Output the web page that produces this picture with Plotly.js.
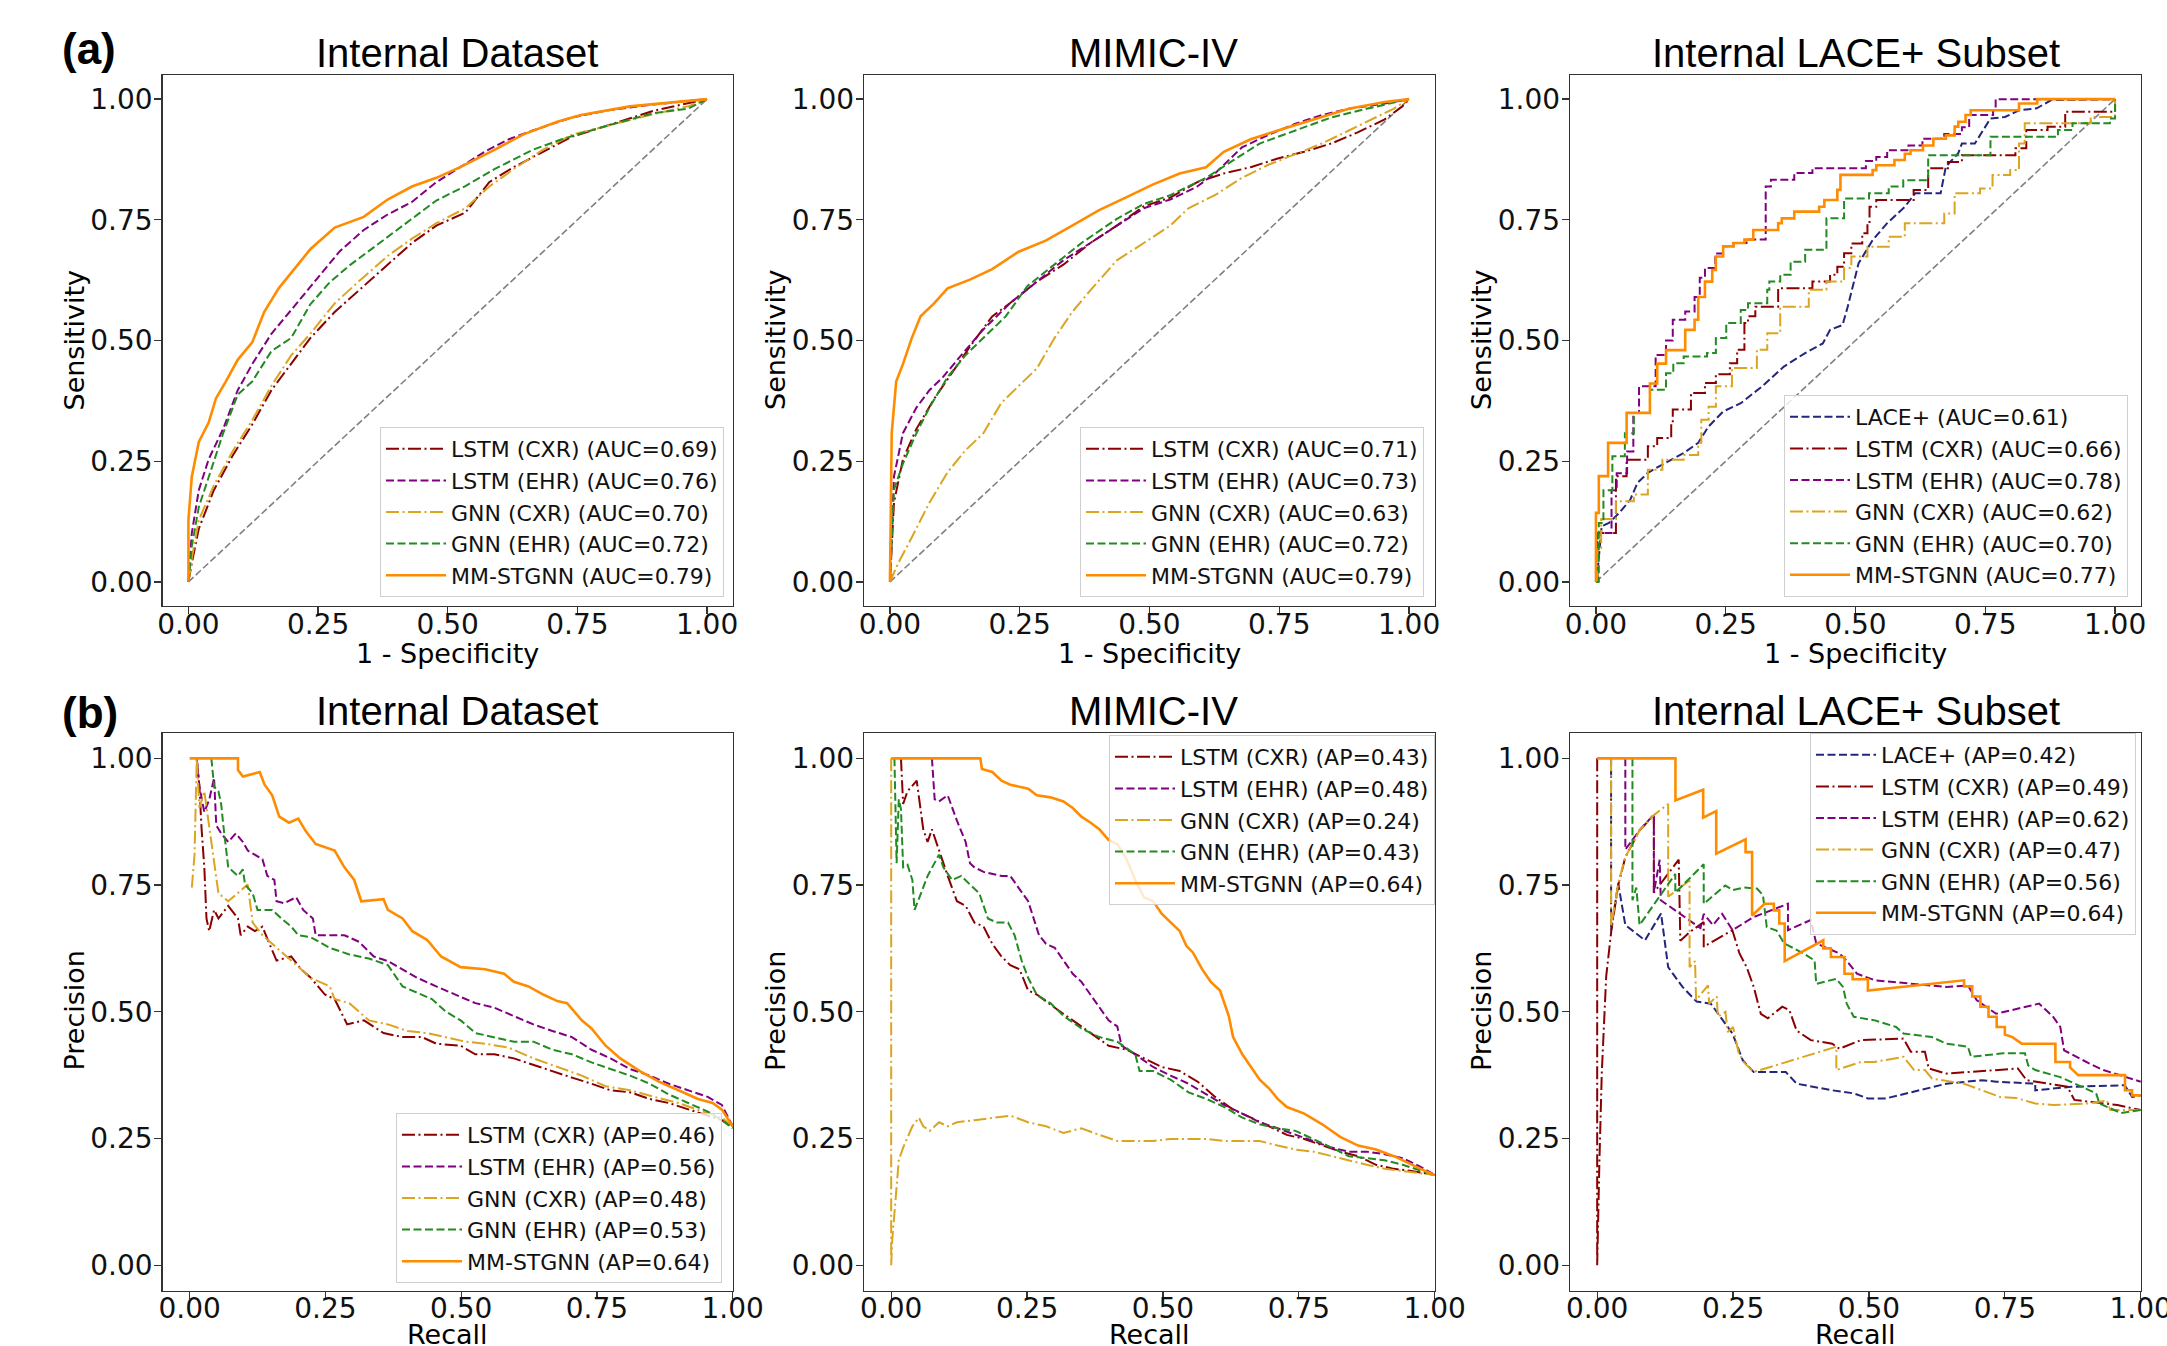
<!DOCTYPE html>
<html><head><meta charset="utf-8">
<script src="https://cdn.plot.ly/plotly-3.0.1.min.js"></script>
<style>html,body{margin:0;padding:0;background:#fff}#chart{width:2167px;height:1346px}</style>
</head><body><div id="chart"></div>
<script>
// ---------- labels ----------
const PANEL_TITLES = ['Internal Dataset', 'MIMIC-IV', 'Internal LACE+ Subset'];
const ROW_TAGS = ['(a)', '(b)'];
const TICK_VALS = [0, 0.25, 0.5, 0.75, 1];
const TICK_TEXT = ['0.00', '0.25', '0.50', '0.75', '1.00'];
const NAMES_ROC_INT = ['LSTM (CXR) (AUC=0.69)', 'LSTM (EHR) (AUC=0.76)', 'GNN (CXR) (AUC=0.70)', 'GNN (EHR) (AUC=0.72)', 'MM-STGNN (AUC=0.79)'];
const NAMES_ROC_MIMIC = ['LSTM (CXR) (AUC=0.71)', 'LSTM (EHR) (AUC=0.73)', 'GNN (CXR) (AUC=0.63)', 'GNN (EHR) (AUC=0.72)', 'MM-STGNN (AUC=0.79)'];
const NAMES_ROC_LACE = ['LACE+ (AUC=0.61)', 'LSTM (CXR) (AUC=0.66)', 'LSTM (EHR) (AUC=0.78)', 'GNN (CXR) (AUC=0.62)', 'GNN (EHR) (AUC=0.70)', 'MM-STGNN (AUC=0.77)'];
const NAMES_PR_INT = ['LSTM (CXR) (AP=0.46)', 'LSTM (EHR) (AP=0.56)', 'GNN (CXR) (AP=0.48)', 'GNN (EHR) (AP=0.53)', 'MM-STGNN (AP=0.64)'];
const NAMES_PR_MIMIC = ['LSTM (CXR) (AP=0.43)', 'LSTM (EHR) (AP=0.48)', 'GNN (CXR) (AP=0.24)', 'GNN (EHR) (AP=0.43)', 'MM-STGNN (AP=0.64)'];
const NAMES_PR_LACE = ['LACE+ (AP=0.42)', 'LSTM (CXR) (AP=0.49)', 'LSTM (EHR) (AP=0.62)', 'GNN (CXR) (AP=0.47)', 'GNN (EHR) (AP=0.56)', 'MM-STGNN (AP=0.64)'];

// ---------- chance diagonal ----------
const diag_x = [0, 1];
const diag_y = [0, 1];

// ---------- (a) ROC, Internal Dataset ----------
const roc_int_lstm_cxr_x = [0,0.0065,0.02,0.049,0.086,0.123,0.16,0.198,0.235,0.282,0.328,0.384,0.431,0.478,0.534,0.58,0.627,0.683,0.739,0.804,0.897,1];
const roc_int_lstm_cxr_y = [0,0.039,0.11,0.19,0.263,0.326,0.397,0.451,0.505,0.559,0.604,0.657,0.702,0.738,0.765,0.828,0.859,0.891,0.922,0.944,0.976,1];
const roc_int_lstm_ehr_x = [0,0.0065,0.02,0.039,0.067,0.095,0.123,0.16,0.198,0.244,0.291,0.338,0.384,0.431,0.478,0.524,0.571,0.618,0.664,0.739,0.804,0.897,1];
const roc_int_lstm_ehr_y = [0,0.101,0.19,0.254,0.317,0.397,0.451,0.514,0.563,0.622,0.684,0.729,0.761,0.787,0.828,0.859,0.891,0.917,0.935,0.962,0.976,0.989,1];
const roc_int_gnn_cxr_x = [0,0.0065,0.02,0.049,0.086,0.123,0.16,0.198,0.235,0.282,0.328,0.384,0.431,0.478,0.534,0.58,0.627,0.683,0.739,0.804,0.897,0.963,1];
const roc_int_gnn_cxr_y = [0,0.048,0.128,0.2,0.272,0.335,0.406,0.469,0.514,0.577,0.622,0.675,0.711,0.743,0.774,0.819,0.855,0.895,0.926,0.944,0.969,0.985,1];
const roc_int_gnn_ehr_x = [0,0.0065,0.02,0.039,0.067,0.095,0.123,0.16,0.198,0.235,0.272,0.31,0.366,0.422,0.478,0.534,0.59,0.664,0.72,0.804,0.897,0.963,1];
const roc_int_gnn_ehr_y = [0,0.074,0.155,0.218,0.308,0.388,0.415,0.478,0.505,0.575,0.62,0.655,0.7,0.745,0.79,0.82,0.855,0.895,0.917,0.944,0.971,0.98,1];
const roc_int_mm_x = [0,0,0.0065,0.02,0.039,0.053,0.072,0.095,0.123,0.146,0.174,0.198,0.235,0.282,0.338,0.384,0.431,0.478,0.524,0.59,0.646,0.711,0.757,0.851,0.944,1];
const roc_int_mm_y = [0,0.128,0.218,0.29,0.33,0.38,0.415,0.46,0.496,0.559,0.608,0.64,0.689,0.734,0.756,0.792,0.819,0.837,0.859,0.895,0.927,0.953,0.967,0.985,0.994,1];

// ---------- (a) ROC, MIMIC-IV ----------
const roc_mim_lstm_cxr_x = [0,0.0077,0.025,0.051,0.085,0.119,0.154,0.197,0.231,0.283,0.334,0.386,0.437,0.489,0.54,0.592,0.643,0.695,0.747,0.798,0.85,0.901,0.953,0.987,1];
const roc_mim_lstm_cxr_y = [0,0.164,0.254,0.317,0.379,0.433,0.487,0.55,0.577,0.622,0.657,0.702,0.738,0.778,0.796,0.828,0.846,0.859,0.877,0.891,0.908,0.931,0.958,0.985,1];
const roc_mim_lstm_ehr_x = [0,0.0077,0.025,0.051,0.076,0.102,0.137,0.18,0.231,0.283,0.334,0.386,0.437,0.489,0.54,0.592,0.626,0.678,0.729,0.781,0.832,0.884,0.953,1];
const roc_mim_lstm_ehr_y = [0,0.218,0.308,0.361,0.397,0.424,0.469,0.523,0.577,0.622,0.666,0.702,0.738,0.774,0.792,0.819,0.846,0.9,0.926,0.949,0.967,0.98,0.991,1];
const roc_mim_gnn_cxr_x = [0,0.016,0.042,0.076,0.111,0.145,0.18,0.214,0.248,0.283,0.317,0.351,0.386,0.437,0.489,0.54,0.575,0.626,0.678,0.729,0.781,0.832,0.884,0.936,0.97,1];
const roc_mim_gnn_cxr_y = [0,0.039,0.092,0.164,0.227,0.272,0.308,0.37,0.406,0.442,0.505,0.559,0.604,0.666,0.702,0.738,0.774,0.801,0.837,0.864,0.886,0.908,0.935,0.962,0.98,1];
const roc_mim_gnn_ehr_x = [0,0.0077,0.025,0.051,0.076,0.111,0.145,0.18,0.223,0.265,0.317,0.369,0.437,0.489,0.54,0.609,0.661,0.712,0.781,0.85,0.918,1];
const roc_mim_gnn_ehr_y = [0,0.191,0.245,0.308,0.361,0.424,0.469,0.505,0.55,0.613,0.657,0.702,0.752,0.783,0.801,0.837,0.873,0.908,0.935,0.962,0.98,1];
const roc_mim_mm_x = [0,0.0034,0.012,0.025,0.042,0.059,0.085,0.111,0.154,0.197,0.248,0.3,0.351,0.403,0.454,0.506,0.558,0.609,0.643,0.695,0.747,0.815,0.884,0.953,1];
const roc_mim_mm_y = [0,0.308,0.415,0.451,0.505,0.55,0.577,0.608,0.626,0.648,0.684,0.707,0.738,0.77,0.796,0.823,0.846,0.859,0.891,0.917,0.935,0.958,0.98,0.994,1];

// ---------- (a) ROC, Internal LACE+ Subset ----------
const roc_lace_lace_x = [0,0.003,0.011,0.025,0.045,0.066,0.08,0.1,0.128,0.169,0.197,0.217,0.245,0.279,0.32,0.362,0.403,0.437,0.451,0.475,0.485,0.506,0.533,0.561,0.595,0.615,0.664,0.674,0.698,0.705,0.73,0.76,0.788,0.815,0.849,0.877,1];
const roc_lace_lace_y = [0,0.02,0.115,0.122,0.143,0.17,0.205,0.226,0.243,0.267,0.288,0.322,0.353,0.37,0.405,0.446,0.474,0.494,0.522,0.532,0.57,0.66,0.708,0.743,0.777,0.805,0.805,0.86,0.888,0.908,0.908,0.96,0.963,0.977,0.981,0.998,1];
const roc_lace_lstm_cxr_x = [0,0.003,0.0385,0.059,0.1,0.118,0.145,0.148,0.183,0.21,0.231,0.258,0.272,0.286,0.293,0.307,0.351,0.417,0.451,0.465,0.478,0.492,0.513,0.523,0.527,0.54,0.612,0.64,0.678,0.705,0.808,0.829,0.87,0.904,1];
const roc_lace_lstm_cxr_y = [0,0.101,0.219,0.253,0.281,0.298,0.329,0.357,0.391,0.412,0.43,0.453,0.481,0.536,0.55,0.57,0.608,0.622,0.636,0.653,0.681,0.701,0.722,0.743,0.777,0.791,0.812,0.857,0.87,0.884,0.898,0.936,0.943,0.974,1];
const roc_lace_lstm_ehr_x = [0,0.0027,0.03,0.04,0.06,0.072,0.083,0.115,0.135,0.148,0.172,0.19,0.2,0.21,0.23,0.245,0.265,0.29,0.327,0.337,0.382,0.417,0.52,0.54,0.561,0.602,0.629,0.671,0.705,0.719,0.765,0.77,1];
const roc_lace_lstm_ehr_y = [0,0.101,0.19,0.225,0.27,0.35,0.405,0.47,0.5,0.543,0.56,0.59,0.63,0.65,0.68,0.695,0.702,0.709,0.819,0.833,0.847,0.857,0.872,0.88,0.894,0.904,0.918,0.928,0.942,0.967,0.977,1,1];
const roc_lace_gnn_cxr_x = [0,0.003,0.01,0.0385,0.073,0.1,0.128,0.169,0.197,0.203,0.217,0.231,0.262,0.31,0.33,0.355,0.41,0.444,0.478,0.492,0.523,0.564,0.595,0.671,0.691,0.74,0.764,0.798,0.815,0.826,0.953,1];
const roc_lace_gnn_cxr_y = [0,0.07,0.13,0.167,0.181,0.232,0.253,0.263,0.288,0.336,0.363,0.405,0.443,0.481,0.515,0.57,0.605,0.622,0.65,0.674,0.694,0.715,0.743,0.763,0.805,0.815,0.843,0.853,0.908,0.95,0.963,1];
const roc_lace_gnn_ehr_x = [0,0.0055,0.0144,0.0316,0.0557,0.073,0.104,0.135,0.149,0.169,0.214,0.231,0.251,0.279,0.293,0.33,0.334,0.355,0.375,0.403,0.444,0.444,0.478,0.526,0.564,0.592,0.64,0.76,0.89,0.918,0.99,1];
const roc_lace_gnn_ehr_y = [0,0.122,0.19,0.26,0.308,0.35,0.398,0.432,0.453,0.467,0.474,0.505,0.536,0.563,0.577,0.605,0.622,0.636,0.663,0.688,0.715,0.753,0.794,0.805,0.819,0.832,0.884,0.922,0.936,0.95,0.96,1];
const roc_lace_mm_x = [0,0,0.0055,0.0234,0.0591,0.104,0.118,0.135,0.172,0.19,0.197,0.21,0.224,0.231,0.245,0.265,0.286,0.303,0.351,0.358,0.382,0.43,0.44,0.465,0.471,0.533,0.54,0.575,0.595,0.606,0.63,0.65,0.674,0.691,0.698,0.712,0.722,0.815,0.85,1];
const roc_lace_mm_y = [0,0.143,0.219,0.288,0.35,0.411,0.452,0.48,0.522,0.543,0.59,0.622,0.646,0.674,0.695,0.702,0.709,0.729,0.743,0.753,0.767,0.777,0.791,0.812,0.843,0.853,0.863,0.874,0.887,0.894,0.904,0.918,0.925,0.943,0.953,0.967,0.977,0.991,1,1];

// ---------- (b) PR, Internal Dataset ----------
const pr_int_lstm_cxr_x = [0.013,0.018,0.022,0.027,0.031,0.036,0.045,0.053,0.071,0.089,0.094,0.107,0.12,0.134,0.147,0.16,0.187,0.205,0.223,0.249,0.267,0.29,0.321,0.357,0.392,0.428,0.454,0.499,0.526,0.561,0.597,0.633,0.668,0.704,0.74,0.775,0.811,0.847,0.882,0.918,0.954,0.98,1];
const pr_int_lstm_cxr_y = [1,0.944,0.86,0.785,0.684,0.659,0.701,0.684,0.709,0.684,0.651,0.668,0.659,0.668,0.634,0.601,0.609,0.584,0.567,0.534,0.525,0.475,0.483,0.458,0.45,0.45,0.437,0.433,0.416,0.416,0.408,0.395,0.383,0.37,0.358,0.345,0.341,0.328,0.32,0.307,0.295,0.286,0.274];
const pr_int_lstm_ehr_x = [0.013,0.018,0.027,0.036,0.045,0.049,0.058,0.071,0.085,0.098,0.107,0.134,0.143,0.156,0.16,0.174,0.196,0.209,0.227,0.232,0.258,0.285,0.312,0.339,0.365,0.392,0.419,0.454,0.49,0.526,0.561,0.597,0.633,0.668,0.704,0.74,0.775,0.811,0.847,0.882,0.918,0.954,0.98,1];
const pr_int_lstm_ehr_y = [1,0.944,0.894,0.918,0.961,0.868,0.852,0.835,0.852,0.835,0.818,0.801,0.768,0.76,0.718,0.714,0.726,0.701,0.684,0.651,0.651,0.651,0.638,0.609,0.6,0.584,0.567,0.55,0.534,0.517,0.508,0.492,0.475,0.462,0.45,0.425,0.408,0.387,0.374,0.358,0.345,0.332,0.316,0.274];
const pr_int_gnn_cxr_x = [0.004,0.009,0.013,0.018,0.027,0.036,0.045,0.053,0.071,0.089,0.107,0.116,0.134,0.152,0.169,0.187,0.205,0.223,0.258,0.267,0.294,0.33,0.365,0.401,0.437,0.472,0.508,0.544,0.588,0.633,0.677,0.722,0.766,0.811,0.856,0.9,0.945,0.98,1];
const pr_int_gnn_cxr_y = [0.745,0.81,1,0.902,0.935,0.868,0.801,0.734,0.718,0.734,0.751,0.676,0.651,0.634,0.617,0.601,0.584,0.567,0.55,0.525,0.517,0.483,0.475,0.462,0.458,0.45,0.441,0.437,0.429,0.408,0.391,0.374,0.353,0.345,0.332,0.32,0.303,0.291,0.274];
const pr_int_gnn_ehr_x = [0.04,0.045,0.053,0.058,0.062,0.067,0.071,0.089,0.098,0.102,0.116,0.125,0.152,0.169,0.187,0.2,0.223,0.258,0.294,0.33,0.365,0.392,0.419,0.446,0.472,0.499,0.526,0.561,0.597,0.633,0.668,0.704,0.74,0.775,0.811,0.847,0.882,0.918,0.954,0.98,1];
const pr_int_gnn_ehr_y = [1,0.944,0.935,0.91,0.868,0.818,0.785,0.768,0.781,0.751,0.734,0.701,0.701,0.684,0.668,0.651,0.647,0.626,0.613,0.605,0.592,0.55,0.538,0.525,0.5,0.483,0.458,0.45,0.441,0.441,0.425,0.416,0.4,0.387,0.374,0.358,0.337,0.32,0.303,0.286,0.27];
const pr_int_mm_x = [0,0.089,0.089,0.098,0.129,0.138,0.152,0.165,0.183,0.2,0.214,0.232,0.267,0.285,0.303,0.316,0.357,0.365,0.392,0.41,0.437,0.463,0.499,0.544,0.579,0.597,0.624,0.651,0.677,0.695,0.722,0.74,0.766,0.793,0.829,0.864,0.9,0.936,0.963,0.98,1];
const pr_int_mm_y = [1,1,0.977,0.964,0.973,0.948,0.927,0.885,0.873,0.881,0.856,0.831,0.818,0.785,0.76,0.718,0.722,0.701,0.684,0.659,0.642,0.609,0.588,0.584,0.575,0.559,0.55,0.534,0.521,0.517,0.483,0.467,0.433,0.408,0.383,0.362,0.345,0.328,0.32,0.307,0.274];

// ---------- (b) PR, MIMIC-IV ----------
const pr_mim_lstm_cxr_x = [0.018,0.022,0.03,0.047,0.059,0.067,0.075,0.088,0.104,0.121,0.137,0.153,0.17,0.186,0.203,0.219,0.236,0.252,0.268,0.301,0.334,0.367,0.4,0.433,0.465,0.498,0.531,0.564,0.596,0.629,0.662,0.695,0.728,0.76,0.793,0.826,0.859,0.892,0.925,0.957,1];
const pr_mim_lstm_cxr_y = [1,0.91,0.935,0.956,0.86,0.835,0.86,0.818,0.768,0.718,0.709,0.676,0.668,0.634,0.609,0.592,0.584,0.542,0.534,0.508,0.483,0.458,0.433,0.425,0.408,0.391,0.383,0.362,0.332,0.307,0.291,0.274,0.257,0.249,0.236,0.224,0.215,0.198,0.19,0.186,0.178];
const pr_mim_lstm_ehr_x = [0.075,0.08,0.088,0.104,0.121,0.137,0.145,0.153,0.17,0.203,0.219,0.236,0.252,0.272,0.285,0.301,0.317,0.334,0.35,0.367,0.383,0.4,0.416,0.424,0.449,0.482,0.514,0.547,0.58,0.613,0.646,0.678,0.711,0.744,0.777,0.81,0.842,0.875,0.908,0.941,0.974,1];
const pr_mim_lstm_ehr_y = [1,0.919,0.915,0.927,0.877,0.835,0.793,0.785,0.776,0.768,0.768,0.743,0.718,0.651,0.634,0.626,0.601,0.575,0.559,0.534,0.508,0.483,0.471,0.433,0.416,0.391,0.374,0.358,0.337,0.316,0.299,0.282,0.27,0.257,0.245,0.232,0.224,0.224,0.219,0.211,0.194,0.178];
const pr_mim_gnn_cxr_x = [0,0,0.002,0.006,0.014,0.022,0.039,0.051,0.059,0.071,0.088,0.104,0.121,0.153,0.186,0.219,0.252,0.285,0.317,0.35,0.383,0.416,0.449,0.482,0.514,0.547,0.58,0.613,0.646,0.678,0.711,0.744,0.777,0.81,0.842,0.875,0.908,0.941,0.974,1];
const pr_mim_gnn_cxr_y = [1,0,0.05,0.106,0.207,0.232,0.274,0.291,0.274,0.265,0.282,0.274,0.282,0.286,0.291,0.295,0.282,0.274,0.261,0.27,0.257,0.245,0.245,0.245,0.249,0.249,0.249,0.245,0.245,0.245,0.236,0.228,0.224,0.215,0.207,0.198,0.19,0.186,0.182,0.178];
const pr_mim_gnn_ehr_x = [0.006,0.01,0.014,0.018,0.022,0.03,0.039,0.043,0.055,0.067,0.088,0.096,0.112,0.129,0.145,0.162,0.178,0.194,0.215,0.227,0.24,0.252,0.268,0.293,0.317,0.35,0.383,0.416,0.449,0.457,0.482,0.514,0.547,0.58,0.613,0.646,0.678,0.711,0.744,0.777,0.81,0.842,0.875,0.908,0.941,0.974,1];
const pr_mim_gnn_ehr_y = [1,0.793,0.919,0.9,0.785,0.79,0.76,0.701,0.734,0.768,0.81,0.785,0.76,0.768,0.751,0.734,0.684,0.676,0.676,0.651,0.601,0.567,0.533,0.517,0.492,0.467,0.45,0.441,0.416,0.383,0.383,0.366,0.341,0.328,0.312,0.291,0.278,0.27,0.265,0.249,0.232,0.215,0.211,0.207,0.198,0.186,0.178];
const pr_mim_mm_x = [0,0.164,0.167,0.186,0.203,0.219,0.252,0.268,0.293,0.317,0.334,0.35,0.367,0.383,0.4,0.416,0.433,0.449,0.465,0.482,0.498,0.514,0.531,0.543,0.555,0.572,0.588,0.605,0.613,0.621,0.629,0.646,0.662,0.678,0.695,0.711,0.728,0.76,0.793,0.826,0.859,0.892,0.925,0.957,0.982,1];
const pr_mim_mm_y = [1,1,0.979,0.973,0.956,0.948,0.94,0.927,0.923,0.915,0.902,0.885,0.873,0.86,0.839,0.831,0.801,0.76,0.726,0.718,0.693,0.676,0.659,0.63,0.617,0.584,0.559,0.542,0.517,0.492,0.45,0.416,0.391,0.366,0.349,0.328,0.312,0.299,0.278,0.253,0.236,0.228,0.215,0.198,0.186,0.178];

// ---------- (b) PR, Internal LACE+ Subset ----------
const pr_lace_lace_x = [0.0256,0.0256,0.0387,0.0518,0.088,0.1175,0.1306,0.157,0.183,0.209,0.2225,0.249,0.268,0.288,0.347,0.367,0.4325,0.472,0.498,0.531,0.6425,0.708,0.734,0.806,0.806,0.872,0.9706,0.984,1];
const pr_lace_lace_y = [1,0.66,0.753,0.671,0.641,0.694,0.588,0.549,0.52,0.516,0.496,0.457,0.404,0.381,0.381,0.358,0.345,0.339,0.329,0.329,0.358,0.365,0.362,0.358,0.345,0.352,0.355,0.332,0.335];
const pr_lace_lstm_cxr_x = [0,0,0.004,0.0085,0.0166,0.026,0.0387,0.0518,0.078,0.1043,0.1043,0.15,0.153,0.17,0.196,0.196,0.2487,0.2618,0.275,0.288,0.301,0.314,0.3406,0.3537,0.3668,0.393,0.4325,0.4456,0.485,0.5637,0.577,0.603,0.61,0.6425,0.774,0.79,0.865,0.878,0.957,1];
const pr_lace_lstm_cxr_y = [1,0,0.2,0.38,0.57,0.66,0.75,0.805,0.858,0.888,0.735,0.8,0.64,0.657,0.677,0.628,0.661,0.615,0.588,0.549,0.496,0.487,0.51,0.503,0.463,0.444,0.437,0.427,0.444,0.447,0.421,0.421,0.388,0.378,0.388,0.365,0.352,0.326,0.316,0.306];
const pr_lace_lstm_ehr_x = [0.0518,0.0518,0.078,0.1043,0.1043,0.115,0.117,0.19,0.196,0.213,0.23,0.249,0.288,0.351,0.351,0.393,0.403,0.4456,0.4587,0.478,0.511,0.577,0.6425,0.682,0.698,0.734,0.813,0.839,0.852,0.859,0.905,0.931,0.9706,1];
const pr_lace_lstm_ehr_y = [1,0.82,0.858,0.889,0.735,0.8,0.72,0.665,0.693,0.671,0.693,0.661,0.687,0.713,0.661,0.681,0.635,0.615,0.601,0.575,0.562,0.556,0.549,0.552,0.523,0.496,0.516,0.49,0.47,0.424,0.398,0.385,0.371,0.362];
const pr_lace_gnn_cxr_x = [0.0256,0.0256,0.0387,0.0518,0.078,0.1043,0.1306,0.1306,0.17,0.17,0.18,0.182,0.204,0.206,0.22,0.222,0.236,0.24,0.25,0.26,0.27,0.288,0.44,0.44,0.485,0.51,0.5637,0.583,0.603,0.616,0.675,0.708,0.741,0.77,0.806,0.839,0.905,0.938,0.944,1];
const pr_lace_gnn_cxr_y = [1,0.667,0.753,0.805,0.858,0.888,0.91,0.727,0.759,0.588,0.6,0.523,0.552,0.516,0.53,0.49,0.5,0.46,0.47,0.42,0.4,0.381,0.431,0.385,0.401,0.401,0.411,0.385,0.385,0.368,0.358,0.345,0.332,0.33,0.319,0.316,0.319,0.325,0.306,0.306];
const pr_lace_gnn_ehr_x = [0.0649,0.0649,0.072,0.078,0.1437,0.1437,0.196,0.196,0.2356,0.25,0.27,0.294,0.305,0.312,0.33,0.344,0.38,0.4,0.403,0.44,0.4522,0.459,0.472,0.511,0.55,0.5637,0.616,0.6425,0.682,0.688,0.747,0.787,0.793,0.806,0.852,0.878,0.918,0.924,0.951,0.964,1];
const pr_lace_gnn_ehr_y = [1,0.72,0.745,0.671,0.772,0.735,0.791,0.713,0.749,0.74,0.745,0.743,0.73,0.667,0.66,0.635,0.615,0.601,0.555,0.565,0.549,0.516,0.49,0.483,0.47,0.457,0.45,0.437,0.431,0.411,0.418,0.418,0.394,0.385,0.371,0.358,0.339,0.319,0.306,0.3,0.306];
const pr_lace_mm_x = [0,0.144,0.144,0.195,0.195,0.219,0.219,0.273,0.273,0.285,0.285,0.308,0.325,0.325,0.335,0.335,0.345,0.345,0.416,0.416,0.43,0.43,0.455,0.455,0.47,0.47,0.498,0.498,0.675,0.675,0.69,0.69,0.705,0.705,0.72,0.72,0.735,0.735,0.75,0.75,0.764,0.781,0.843,0.843,0.87,0.87,0.885,0.971,0.971,0.984,0.984,1];
const pr_lace_mm_y = [1,1,0.917,0.938,0.883,0.896,0.812,0.84,0.815,0.815,0.69,0.713,0.713,0.7,0.7,0.674,0.674,0.6,0.641,0.625,0.625,0.608,0.608,0.575,0.575,0.564,0.564,0.542,0.562,0.55,0.55,0.53,0.53,0.51,0.51,0.49,0.49,0.47,0.47,0.455,0.45,0.437,0.437,0.401,0.401,0.39,0.375,0.375,0.345,0.345,0.335,0.335];

// ---------- styles ----------
const DASH = '8px,3.5px';
const DASHDOT = '13px,3.5px,2px,3.5px';
const STYLE = {
  lace:     {color: '#24267c', dash: DASH, width: 2},
  lstm_cxr: {color: '#8b0000', dash: DASHDOT, width: 2},
  lstm_ehr: {color: '#800080', dash: DASH, width: 2},
  gnn_cxr:  {color: '#daa520', dash: DASHDOT, width: 2},
  gnn_ehr:  {color: '#228b22', dash: DASH, width: 2},
  mm:       {color: '#ff8c00', dash: 'solid', width: 2.6}
};

const traces = [];
function add(x, y, name, key, ax, leg, shape) {
  const s = STYLE[key];
  traces.push({
    x: x, y: y, name: name, type: 'scatter', mode: 'lines',
    xaxis: 'x' + ax, yaxis: 'y' + ax, legend: leg,
    line: {color: s.color, dash: s.dash, width: s.width, shape: shape || 'linear'},
    hoverinfo: 'skip'
  });
}
function addDiag(ax, leg) {
  traces.push({x: diag_x, y: diag_y, type: 'scatter', mode: 'lines', showlegend: false,
    xaxis: 'x' + ax, yaxis: 'y' + ax, legend: leg,
    line: {color: '#808080', dash: '7px,3px', width: 1.6}, hoverinfo: 'skip'});
}

// panel a1
addDiag('', 'legend');
add(roc_int_lstm_cxr_x, roc_int_lstm_cxr_y, NAMES_ROC_INT[0], 'lstm_cxr', '', 'legend');
add(roc_int_lstm_ehr_x, roc_int_lstm_ehr_y, NAMES_ROC_INT[1], 'lstm_ehr', '', 'legend');
add(roc_int_gnn_cxr_x, roc_int_gnn_cxr_y, NAMES_ROC_INT[2], 'gnn_cxr', '', 'legend');
add(roc_int_gnn_ehr_x, roc_int_gnn_ehr_y, NAMES_ROC_INT[3], 'gnn_ehr', '', 'legend');
add(roc_int_mm_x, roc_int_mm_y, NAMES_ROC_INT[4], 'mm', '', 'legend');
// panel a2
addDiag('2', 'legend2');
add(roc_mim_lstm_cxr_x, roc_mim_lstm_cxr_y, NAMES_ROC_MIMIC[0], 'lstm_cxr', '2', 'legend2');
add(roc_mim_lstm_ehr_x, roc_mim_lstm_ehr_y, NAMES_ROC_MIMIC[1], 'lstm_ehr', '2', 'legend2');
add(roc_mim_gnn_cxr_x, roc_mim_gnn_cxr_y, NAMES_ROC_MIMIC[2], 'gnn_cxr', '2', 'legend2');
add(roc_mim_gnn_ehr_x, roc_mim_gnn_ehr_y, NAMES_ROC_MIMIC[3], 'gnn_ehr', '2', 'legend2');
add(roc_mim_mm_x, roc_mim_mm_y, NAMES_ROC_MIMIC[4], 'mm', '2', 'legend2');
// panel a3
addDiag('3', 'legend3');
add(roc_lace_lace_x, roc_lace_lace_y, NAMES_ROC_LACE[0], 'lace', '3', 'legend3');
add(roc_lace_lstm_cxr_x, roc_lace_lstm_cxr_y, NAMES_ROC_LACE[1], 'lstm_cxr', '3', 'legend3', 'hv');
add(roc_lace_lstm_ehr_x, roc_lace_lstm_ehr_y, NAMES_ROC_LACE[2], 'lstm_ehr', '3', 'legend3', 'hv');
add(roc_lace_gnn_cxr_x, roc_lace_gnn_cxr_y, NAMES_ROC_LACE[3], 'gnn_cxr', '3', 'legend3', 'hv');
add(roc_lace_gnn_ehr_x, roc_lace_gnn_ehr_y, NAMES_ROC_LACE[4], 'gnn_ehr', '3', 'legend3', 'hv');
add(roc_lace_mm_x, roc_lace_mm_y, NAMES_ROC_LACE[5], 'mm', '3', 'legend3', 'hv');
// panel b1
add(pr_int_lstm_cxr_x, pr_int_lstm_cxr_y, NAMES_PR_INT[0], 'lstm_cxr', '4', 'legend4');
add(pr_int_lstm_ehr_x, pr_int_lstm_ehr_y, NAMES_PR_INT[1], 'lstm_ehr', '4', 'legend4');
add(pr_int_gnn_cxr_x, pr_int_gnn_cxr_y, NAMES_PR_INT[2], 'gnn_cxr', '4', 'legend4');
add(pr_int_gnn_ehr_x, pr_int_gnn_ehr_y, NAMES_PR_INT[3], 'gnn_ehr', '4', 'legend4');
add(pr_int_mm_x, pr_int_mm_y, NAMES_PR_INT[4], 'mm', '4', 'legend4');
// panel b2
add(pr_mim_lstm_cxr_x, pr_mim_lstm_cxr_y, NAMES_PR_MIMIC[0], 'lstm_cxr', '5', 'legend5');
add(pr_mim_lstm_ehr_x, pr_mim_lstm_ehr_y, NAMES_PR_MIMIC[1], 'lstm_ehr', '5', 'legend5');
add(pr_mim_gnn_cxr_x, pr_mim_gnn_cxr_y, NAMES_PR_MIMIC[2], 'gnn_cxr', '5', 'legend5');
add(pr_mim_gnn_ehr_x, pr_mim_gnn_ehr_y, NAMES_PR_MIMIC[3], 'gnn_ehr', '5', 'legend5');
add(pr_mim_mm_x, pr_mim_mm_y, NAMES_PR_MIMIC[4], 'mm', '5', 'legend5');
// panel b3
add(pr_lace_lace_x, pr_lace_lace_y, NAMES_PR_LACE[0], 'lace', '6', 'legend6');
add(pr_lace_lstm_cxr_x, pr_lace_lstm_cxr_y, NAMES_PR_LACE[1], 'lstm_cxr', '6', 'legend6');
add(pr_lace_lstm_ehr_x, pr_lace_lstm_ehr_y, NAMES_PR_LACE[2], 'lstm_ehr', '6', 'legend6');
add(pr_lace_gnn_cxr_x, pr_lace_gnn_cxr_y, NAMES_PR_LACE[3], 'gnn_cxr', '6', 'legend6');
add(pr_lace_gnn_ehr_x, pr_lace_gnn_ehr_y, NAMES_PR_LACE[4], 'gnn_ehr', '6', 'legend6');
add(pr_lace_mm_x, pr_lace_mm_y, NAMES_PR_LACE[5], 'mm', '6', 'legend6');

// ---------- layout ----------
const W = 2167, H = 1346;
const COLS = [[162.5, 733], [864, 1435], [1570, 2141]];
const ROWS = [[75, 606], [733, 1290.5]];
const TITLE_SHIFT = [9, 4, 0];
const TICKFONT = {family: 'DejaVu Sans', size: 28, color: '#111'};
function xax(col, row, anchor) {
  return {domain: [COLS[col][0] / W, COLS[col][1] / W], anchor: anchor,
    range: row === 0 ? [-0.05, 1.05] : [-0.05, 1.0005],
    tickvals: TICK_VALS, ticktext: TICK_TEXT, tickfont: TICKFONT, ticklabelstandoff: -14,
    ticklabeloverflow: 'allow',
    showline: true, mirror: true, linecolor: '#333', linewidth: 1.3,
    ticks: 'outside', ticklen: 7, tickwidth: 1.3, tickcolor: '#333',
    showgrid: false, zeroline: false, fixedrange: true};
}
function yax(col, row, anchor) {
  return {domain: [1 - ROWS[row][1] / H, 1 - ROWS[row][0] / H], anchor: anchor,
    range: [-0.05, 1.05],
    tickvals: TICK_VALS, ticktext: TICK_TEXT, tickfont: TICKFONT, ticklabelstandoff: -4,
    showline: true, mirror: true, linecolor: '#333', linewidth: 1.3,
    ticks: 'outside', ticklen: 7, tickwidth: 1.3, tickcolor: '#333',
    showgrid: false, zeroline: false, fixedrange: true};
}
function legendAt(xr, y, yanchor) {
  return {x: xr / W, y: 1 - y / H, xanchor: 'right', yanchor: yanchor, xref: 'paper', yref: 'paper',
    bgcolor: 'rgba(255,255,255,0.82)', bordercolor: '#cfcfcf', borderwidth: 1,
    font: {family: 'DejaVu Sans', size: 22, color: '#111'}, itemwidth: 60,
    traceorder: 'normal'};
}

const annotations = [];
function ann(text, xpx, ypx, size, family, xanchor, angle) {
  annotations.push({text: text, x: xpx / W, y: 1 - ypx / H, xref: 'paper', yref: 'paper',
    showarrow: false, xanchor: xanchor || 'center', yanchor: 'middle', textangle: angle || 0,
    font: {family: family, size: size, color: '#000'}});
}
for (let c = 0; c < 3; c++) {
  const cx = (COLS[c][0] + COLS[c][1]) / 2;
  ann(PANEL_TITLES[c], cx + TITLE_SHIFT[c], 53, 40, 'Liberation Sans, Arial, sans-serif');
  ann(PANEL_TITLES[c], cx + TITLE_SHIFT[c], 711, 40, 'Liberation Sans, Arial, sans-serif');
  const lx = COLS[c][0] - 89;
  ann('Sensitivity', lx, 340, 27, 'DejaVu Sans', 'center', -90);
  ann('Precision', lx, 1011, 27, 'DejaVu Sans', 'center', -90);
  ann('1 - Specificity', cx, 653, 27, 'DejaVu Sans');
  ann('Recall', cx, 1334, 27, 'DejaVu Sans');
}
ann('<b>' + ROW_TAGS[0] + '</b>', 60, 49, 44, 'Liberation Sans, Arial, sans-serif', 'left');
ann('<b>' + ROW_TAGS[1] + '</b>', 60, 712, 44, 'Liberation Sans, Arial, sans-serif', 'left');

const layout = {
  width: W, height: H, margin: {l: 0, r: 0, t: 0, b: 0},
  paper_bgcolor: '#fff', plot_bgcolor: '#fff', showlegend: true,
  xaxis: xax(0, 0, 'y'), yaxis: yax(0, 0, 'x'),
  xaxis2: xax(1, 0, 'y2'), yaxis2: yax(1, 0, 'x2'),
  xaxis3: xax(2, 0, 'y3'), yaxis3: yax(2, 0, 'x3'),
  xaxis4: xax(0, 1, 'y4'), yaxis4: yax(0, 1, 'x4'),
  xaxis5: xax(1, 1, 'y5'), yaxis5: yax(1, 1, 'x5'),
  xaxis6: xax(2, 1, 'y6'), yaxis6: yax(2, 1, 'x6'),
  legend: legendAt(724, 597, 'bottom'),
  legend2: legendAt(1424, 597, 'bottom'),
  legend3: legendAt(2128, 597, 'bottom'),
  legend4: legendAt(722, 1283, 'bottom'),
  legend5: legendAt(1435, 735, 'top'),
  legend6: legendAt(2136, 733, 'top'),
  annotations: annotations
};

Plotly.newPlot('chart', traces, layout, {displayModeBar: false, staticPlot: true});
</script></body></html>
